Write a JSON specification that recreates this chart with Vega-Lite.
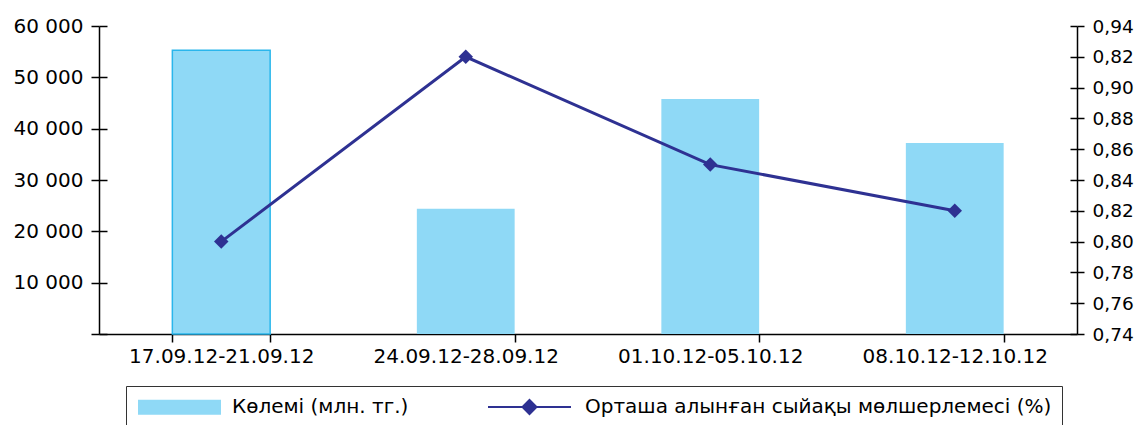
{
  "$schema": "https://vega.github.io/schema/vega-lite/v6.json",
  "width": 978,
  "height": 308,
  "autosize": {"type": "none"},
  "padding": {"left": 99, "top": 26, "right": 62, "bottom": 91},
  "background": "#ffffff",
  "config": {
    "font": "DejaVu Sans",
    "view": {"stroke": null},
    "axis": {
      "domainColor": "#000000",
      "tickColor": "#000000",
      "labelColor": "#000000",
      "grid": false,
      "labelFont": "DejaVu Sans",
      "labelFontSize": 20,
      "labelLimit": 400,
      "domainWidth": 1.5,
      "tickWidth": 1.5
    },
    "legend": {"labelFont": "DejaVu Sans", "labelColor": "#000000"}
  },
  "data": {
    "values": [
      {"period": "17.09.12-21.09.12", "volume": 55300, "rate": 0.80},
      {"period": "24.09.12-28.09.12", "volume": 24400, "rate": 0.92},
      {"period": "01.10.12-05.10.12", "volume": 45800, "rate": 0.85},
      {"period": "08.10.12-12.10.12", "volume": 37200, "rate": 0.82}
    ]
  },
  "encoding": {
    "x": {
      "field": "period",
      "type": "nominal",
      "sort": null,
      "scale": {"paddingInner": 0.6, "paddingOuter": 0.3},
      "axis": {
        "title": null,
        "labelAngle": 0,
        "tickBand": "extent",
        "tickSize": 8,
        "labelPadding": 4,
        "labelFontSize": 20
      }
    }
  },
  "layer": [
    {
      "mark": {"type": "bar"},
      "encoding": {
        "y": {
          "field": "volume",
          "type": "quantitative",
          "scale": {"domain": [0, 60000]},
          "axis": {
            "title": null,
            "values": [0, 10000, 20000, 30000, 40000, 50000, 60000],
            "labelExpr": "datum.value == 0 ? '' : replace(format(datum.value, ','), ',', ' ')",
            "tickSize": 8,
            "labelPadding": 8
          }
        },
        "color": {
          "datum": "Көлемі (млн. тг.)",
          "scale": {
            "domain": ["Көлемі (млн. тг.)", "Орташа алынған сыйақы мөлшерлемесі (%)"],
            "range": ["#8fd9f6", "#2e3192"]
          },
          "legend": {
            "title": null,
            "orient": "none",
            "legendX": 27,
            "legendY": 360,
            "direction": "horizontal",
            "strokeColor": "#333333",
            "padding": 10,
            "symbolSize": 400,
            "symbolStrokeWidth": 2,
            "labelFontSize": 20,
            "labelOffset": 74,
            "columnPadding": 75,
            "labelLimit": 700
          }
        }
      }
    },
    {
      "transform": [{"filter": "datum.period == '17.09.12-21.09.12'"}],
      "mark": {"type": "bar", "filled": false, "stroke": "#2ab6ec", "strokeWidth": 1.5},
      "encoding": {
        "y": {
          "field": "volume",
          "type": "quantitative",
          "scale": {"domain": [0, 60000]},
          "axis": {
            "title": null,
            "orient": "left",
            "values": [0, 10000, 20000, 30000, 40000, 50000, 60000],
            "labels": false,
            "domain": false,
            "tickSize": -8
          }
        }
      }
    },
    {
      "mark": {"type": "line", "strokeWidth": 3},
      "encoding": {
        "y": {
          "field": "rate",
          "type": "quantitative",
          "scale": {"domain": [0.74, 0.94], "zero": false},
          "axis": {
            "title": null,
            "orient": "right",
            "values": [0.74, 0.76, 0.78, 0.8, 0.82, 0.84, 0.86, 0.88, 0.9, 0.92, 0.94],
            "labelExpr": "abs(datum.value - 0.92) < 0.001 ? '0,82' : replace(format(datum.value, '.2f'), '.', ',')",
            "tickSize": 7,
            "labelPadding": 8,
            "labelFontSize": 18.5
          }
        },
        "color": {"datum": "Орташа алынған сыйақы мөлшерлемесі (%)"}
      }
    },
    {
      "mark": {"type": "point", "shape": "diamond", "filled": true, "opacity": 1, "strokeWidth": 0, "size": 210},
      "encoding": {
        "y": {
          "field": "rate",
          "type": "quantitative",
          "scale": {"domain": [0.74, 0.94], "zero": false},
          "axis": {
            "title": null,
            "orient": "right",
            "values": [0.74, 0.76, 0.78, 0.8, 0.82, 0.84, 0.86, 0.88, 0.9, 0.92, 0.94],
            "labels": false,
            "domain": false,
            "tickSize": -7
          }
        },
        "color": {"datum": "Орташа алынған сыйақы мөлшерлемесі (%)"}
      }
    },
    {
      "transform": [{"filter": "false"}],
      "mark": {"type": "point", "filled": true},
      "encoding": {
        "y": {
          "field": "rate",
          "type": "quantitative",
          "scale": {"domain": [0.74, 0.94], "zero": false},
          "axis": null
        },
        "color": {"datum": "Орташа алынған сыйақы мөлшерлемесі (%)"},
        "shape": {
          "datum": "Орташа алынған сыйақы мөлшерлемесі (%)",
          "scale": {
            "domain": ["Көлемі (млн. тг.)", "Орташа алынған сыйақы мөлшерлемесі (%)"],
            "range": ["M-0.8,-0.65H7.3V0.65H-0.8Z", "M-1.2,0H7.1M2.95,-0.7L3.65,0L2.95,0.7L2.25,0Z"]
          },
          "legend": {"title": null}
        }
      }
    }
  ],
  "resolve": {"scale": {"y": "independent"}}
}
